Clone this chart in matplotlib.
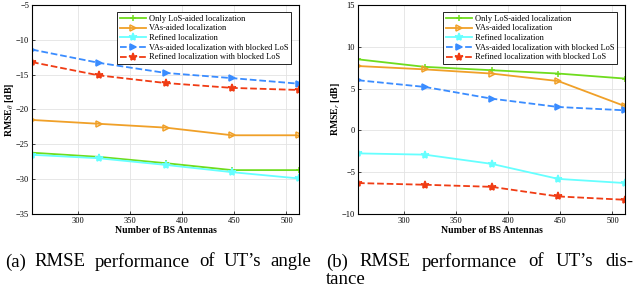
import matplotlib
matplotlib.use('Agg')
import matplotlib.pyplot as plt

antennas = [256, 320, 384, 448, 512]

labels = ['Only LoS-aided localization',
          'VAs-aided localization',
          'Refined localization',
          'VAs-aided localization with blocked LoS',
          'Refined localization with blocked LoS']

# (a) angle RMSE [dB]
angle_los = [-26.2, -26.8, -27.7, -28.7, -28.7]
angle_vas = [-21.5, -22.05, -22.6, -23.7, -23.7]
angle_refined = [-26.5, -27.0, -27.95, -29.0, -29.9]
angle_vas_blocked = [-11.4, -13.3, -14.75, -15.5, -16.3]
angle_refined_blocked = [-13.2, -15.1, -16.2, -16.9, -17.2]

# (b) distance RMSE [dB]
dist_los = [8.5, 7.6, 7.2, 6.8, 6.2]
dist_vas = [7.7, 7.3, 6.8, 5.9, 2.9]
dist_refined = [-2.75, -2.9, -4.0, -5.8, -6.3]
dist_vas_blocked = [6.0, 5.2, 3.8, 2.8, 2.4]
dist_refined_blocked = [-6.3, -6.5, -6.75, -7.9, -8.3]

colors = ['#6fdc1e', '#f0a028', '#66ffff', '#3a8cff', '#f03c14']
markers = ['+', '>', '*', '>', '*']
styles = ['-', '-', '-', '--', '--']

plt.rcParams['font.family'] = ['Liberation Serif', 'DejaVu Serif']
plt.rcParams['mathtext.fontset'] = 'stix'

W, H = 640, 289
fig = plt.figure(figsize=(6.4, 2.89), dpi=100)
ax1 = fig.add_axes([32/W, 1 - 214/H, 267/W, 209/H])
ax2 = fig.add_axes([358/W, 1 - 214/H, 267/W, 209/H])


def draw(ax, series, ylim, yticks, ylabel):
    for s, c, m, ls, lab in zip(series, colors, markers, styles, labels):
        ms = 6 if m == '*' else 5
        ax.plot(antennas, s, color=c, marker=m, linestyle=ls, lw=1.3,
                markersize=ms, markerfacecolor='none' if m == '>' and ls == '-' else c,
                markeredgewidth=1.1, label=lab)
    ax.set_xlim(256, 512)
    ax.set_ylim(*ylim)
    ax.set_xticks([300, 350, 400, 450, 500])
    ax.set_yticks(yticks)
    ax.grid(True, color='#e3e3e3', lw=0.6)
    ax.tick_params(direction='in', labelsize=6, length=2, width=0.5, pad=2)
    for sp in ax.spines.values():
        sp.set_linewidth(0.8)
    ax.set_xlabel('Number of BS Antennas', fontsize=7, fontweight='bold', labelpad=1)
    ax.set_ylabel(ylabel, fontsize=7, fontweight='bold', labelpad=0)
    leg = ax.legend(loc='upper right', fontsize=6, handlelength=3.2,
                    borderpad=0.3, labelspacing=0.2, handletextpad=0.3,
                    fancybox=False, framealpha=1, edgecolor='black',
                    bbox_to_anchor=(0.985, 0.985))
    leg.get_frame().set_linewidth(0.6)


draw(ax1, [angle_los, angle_vas, angle_refined, angle_vas_blocked, angle_refined_blocked],
     (-35, -5), [-35, -30, -25, -20, -15, -10, -5], r'RMSE$_\theta$ [dB]')
draw(ax2, [dist_los, dist_vas, dist_refined, dist_vas_blocked, dist_refined_blocked],
     (-10, 15), [-10, -5, 0, 5, 10, 15], r'RMSE$_r$ [dB]')


def justified(text, x0, x1, y, size=13.5):
    # spread the words of a caption line across x0..x1 (pixels)
    words = text.split(' ')
    renderer = fig.canvas.get_renderer()
    arts = [fig.text(0, 1 - y/H, w, fontsize=size, va='center') for w in words]
    widths = [a.get_window_extent(renderer).width for a in arts]
    gap = (x1 - x0 - sum(widths)) / (len(words) - 1)
    x = x0
    for a, w in zip(arts, widths):
        a.set_x(x / W)
        x += w + gap


justified('(a) RMSE performance of UT\u2019s angle', 5, 311, 262)
justified('(b) RMSE performance of UT\u2019s dis-', 326, 633, 262)
fig.text(326/W, 1 - 279/H, 'tance', fontsize=13.5, va='center')

fig.savefig('out.png', dpi=100)
